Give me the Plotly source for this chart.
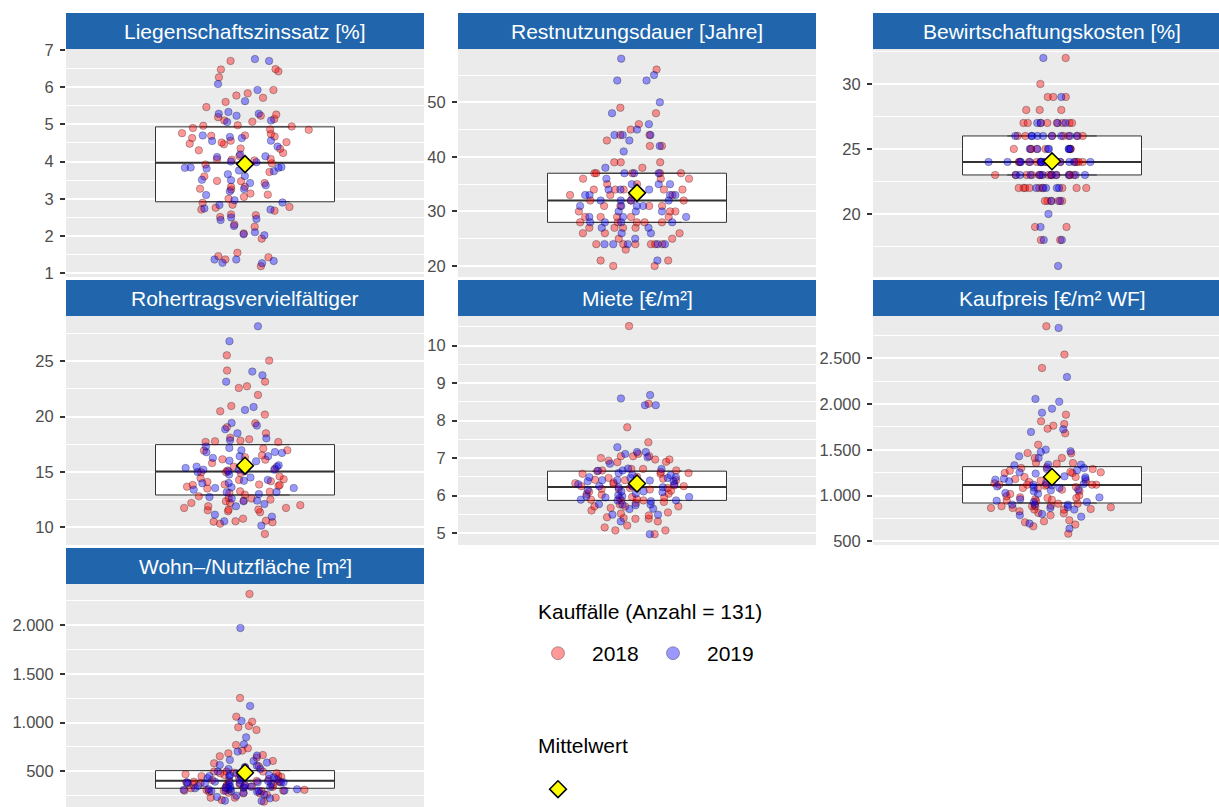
import plotly.graph_objects as go

W, H = 1219, 807

TITLES = ["Liegenschaftszinssatz [%]", "Restnutzungsdauer [Jahre]", "Bewirtschaftungskosten [%]",
          "Rohertragsvervielfältiger", "Miete [€/m²]", "Kaufpreis [€/m² WF]", "Wohn–/Nutzfläche [m²]"]

LIEG_2018 = [6.70, 6.47, 6.42, 6.48, 6.26, 5.92, 5.83, 5.77, 5.71, 5.60, 5.46, 5.26, 5.23, 5.14, 5.19, 5.10,
             5.07, 4.97, 4.94, 4.96, 4.90, 4.85, 4.86, 4.74, 4.76, 4.67, 4.69, 4.70, 4.56, 4.63, 4.52, 4.48,
             4.51, 4.46, 4.34, 4.35, 4.30, 4.23, 4.03, 4.06, 4.07, 4.05, 3.92, 3.72, 3.47, 3.48, 3.42, 3.32,
             3.32, 3.27, 3.25, 3.14, 3.11, 3.05, 3.00, 2.89, 2.84, 2.78, 2.76, 2.71, 2.68, 2.58, 2.56, 2.51,
             2.31, 2.25, 2.07, 1.93, 1.46, 1.37, 1.43, 1.55, 1.19, 3.95, 3.60, 4.15]
LIEG_2019 = [6.70, 6.75, 6.08, 5.92, 5.62, 5.33, 5.23, 5.28, 5.28, 5.10, 5.06, 4.63, 4.66, 4.70, 4.55, 4.56,
             4.19, 4.14, 4.00, 4.12, 3.83, 3.84, 3.81, 3.74, 3.83, 3.85, 3.76, 3.66, 3.61, 3.50, 3.51, 3.42,
             3.36, 3.26, 3.20, 2.96, 2.83, 2.71, 2.74, 2.50, 2.46, 2.43, 2.27, 2.10, 2.02, 2.05, 1.28, 1.37,
             1.33, 1.27, 1.37, 3.98, 4.40, 3.10, 2.90]

REST_2018 = [56, 49, 48, 46, 45, 44, 44, 43, 42, 42, 39, 39, 39, 38, 37, 37, 37, 37, 37, 36, 36, 36, 35,
             34, 34, 34, 34, 34, 33, 33, 33, 32, 32, 31, 31, 31, 31, 30, 30, 29, 29, 29, 29, 29, 28, 28, 28,
             28, 27, 27, 27, 26, 26, 26, 25, 25, 24, 24, 24, 24, 24, 24, 23, 21, 21, 20, 20,
             33, 32, 30, 28, 27, 35]
REST_2019 = [58, 55, 54, 54, 50, 48, 46, 45, 44, 44, 44, 43, 42, 41, 38, 37, 37, 37, 35, 35, 35, 34, 34,
             34, 33, 33, 33, 32, 32, 32, 32, 31, 31, 31, 30, 30, 29, 29, 28, 28, 28, 27, 27, 26, 25, 24, 24,
             24, 24, 24, 21, 31, 29, 30, 26, 28, 33, 36]

BEWI_2018 = [32, 30, 29, 29, 29, 28, 28, 28, 27, 27, 27, 27, 27, 27, 27, 27, 26, 26, 26, 26, 26, 26, 26,
             25, 25, 25, 25, 25, 25, 25, 24, 24, 24, 24, 24, 24, 24, 24, 24, 24, 24, 24, 23, 23, 23, 23, 23,
             23, 23, 23, 23, 23, 23, 23, 23, 22, 22, 22, 22, 22, 22, 22, 22, 22, 21, 21, 21, 21, 21, 19, 19,
             18, 18]
BEWI_2019 = [32, 29, 27, 27, 27, 27, 26, 26, 26, 26, 26, 26, 26, 26, 26, 25, 25, 25, 25, 25, 25, 25, 24,
             24, 24, 24, 24, 24, 24, 24, 24, 24, 24, 24, 24, 24, 23, 23, 23, 23, 23, 23, 23, 23, 23, 23, 22,
             22, 22, 22, 22, 21, 21, 20, 19, 18, 18, 16]

ROHE_2018 = [25.54, 25.06, 24.16, 23.16, 22.74, 22.59, 21.96, 20.96, 20.18, 20.48, 19.40, 19.04, 18.49,
             17.95, 17.71, 18.10, 17.83, 17.77, 17.71, 17.11, 16.96, 16.93, 16.33, 16.14, 16.11, 15.48,
             15.12, 14.97, 14.97, 14.43, 14.34, 14.28, 14.16, 14.10, 13.86, 13.83, 13.86, 13.83, 13.67,
             13.73, 13.25, 13.22, 12.95, 12.65, 12.59, 12.41, 12.50, 12.35, 12.20, 12.20, 11.75, 11.75,
             11.90, 11.54, 11.60, 11.45, 11.60, 11.36, 10.78, 10.33, 10.54, 10.51, 10.45, 10.60, 9.40,
             15.3, 14.6, 13.1, 16.5, 12.8, 15.8, 14.9, 13.5, 12.0]
ROHE_2019 = [28.16, 26.81, 23.73, 24.07, 23.16, 20.87, 20.60, 19.43, 19.19, 18.86, 18.49, 18.04, 17.86,
             17.17, 16.96, 16.72, 16.78, 16.42, 16.27, 16.42, 16.02, 15.96, 15.48, 15.48, 15.36, 15.21,
             15.21, 15.21, 15.06, 15.06, 14.76, 14.28, 14.00, 13.98, 13.61, 13.55, 13.55, 13.40, 13.16,
             13.19, 12.74, 12.41, 12.35, 12.11, 11.90, 11.14, 10.96, 10.54, 10.15,
             14.5, 15.6, 13.0, 12.6, 16.8, 14.2, 15.0, 17.3]

MIET_2018 = [10.52, 8.45, 7.82, 7.42, 7.11, 7.05, 7.05, 7.00, 6.96, 6.96, 7.05, 6.93, 6.90, 6.89, 6.71,
             6.71, 6.67, 6.67, 6.65, 6.60, 6.63, 6.58, 6.58, 6.47, 6.33, 6.41, 6.41, 6.42, 6.31, 6.27, 6.25,
             6.18, 6.20, 6.27, 6.17, 6.16, 6.13, 5.95, 5.96, 6.02, 6.04, 5.93, 5.87, 5.89, 5.87, 5.83, 5.71,
             5.76, 5.71, 5.71, 5.67, 5.55, 5.42, 5.31, 5.20, 5.60, 5.52, 5.47, 5.38, 5.40, 5.38, 5.15, 5.07,
             5.07, 4.97, 6.20, 6.35, 6.50, 5.90, 6.05, 6.25, 5.80, 6.45, 6.10]
MIET_2019 = [8.41, 8.41, 8.59, 8.68, 7.16, 7.16, 7.11, 7.29, 7.02, 6.85, 6.72, 6.71, 6.67, 6.66, 6.56,
             6.47, 6.49, 6.49, 6.47, 6.41, 6.38, 6.41, 6.38, 6.54, 6.25, 6.25, 6.22, 6.22, 6.11, 6.09, 6.11,
             5.98, 5.98, 6.01, 5.96, 5.87, 5.89, 5.87, 5.77, 5.76, 5.76, 5.74, 5.64, 5.65, 5.49, 5.49, 5.31,
             4.97, 6.30, 6.15, 5.95, 6.40, 6.20, 5.85, 6.60, 6.05, 6.30]

KAUF_2018 = [2850, 2540, 2394, 1884, 1811, 1782, 1764, 1731, 1680, 1556, 1462, 1465, 1411, 1411, 1356,
             1356, 1349, 1309, 1290, 1301, 1272, 1258, 1247, 1247, 1254, 1203, 1203, 1163, 1156, 1149,
             1134, 1119, 1119, 1119, 1108, 1119, 1119, 1083, 1076, 1065, 1094, 1017, 981, 974, 974, 992,
             955, 944, 937, 912, 912, 890, 883, 872, 883, 865, 883, 865, 847, 854, 828, 847, 806, 810, 784,
             719, 730, 683, 708, 664, 584, 1050, 1000, 1180, 960, 1230]
KAUF_2019 = [2832, 2296, 2056, 2026, 1950, 1906, 1724, 1695, 1484, 1476, 1502, 1429, 1411, 1338, 1338,
             1331, 1301, 1290, 1276, 1240, 1254, 1210, 1181, 1185, 1174, 1156, 1127, 1119, 1112, 1065,
             1083, 1057, 1046, 1028, 944, 959, 930, 930, 901, 901, 872, 865, 847, 784, 799, 770, 694, 639,
             1100, 1020, 980, 1200, 1090, 1140, 900]

WOHN_2018 = [2318, 1252, 1060, 1009, 965, 924, 951, 770, 736, 712, 640, 684, 667, 654, 606, 582, 551, 537,
             497, 479, 469, 497, 486, 497, 452, 462, 462, 428, 445, 408, 401, 394, 384, 370, 360, 367, 360,
             333, 343, 326, 309, 302, 298, 302, 281, 230, 230, 230, 206, 189, 274, 274,
             420, 380, 350, 310, 450, 400, 330, 290, 260, 480, 360, 410, 340, 300, 390, 320]
WOHN_2019 = [1969, 1170, 1016, 848, 777, 702, 661, 616, 606, 589, 565, 544, 558, 524, 524, 497, 462, 479,
             452, 452, 438, 418, 387, 387, 384, 377, 387, 394, 377, 377, 353, 343, 333, 343, 326, 333, 302,
             316, 316, 298, 298, 302, 264, 237, 223, 196, 199,
             410, 370, 340, 300, 460, 350, 280, 430, 390, 320, 250, 360, 400, 310, 440, 290]

Q1 = [2.92, 28, 23, 12.92, 5.87, 919, 326]
MEDIAN = [3.97, 32, 24, 15.03, 6.23, 1116, 404]
Q3 = [4.93, 37, 26, 17.47, 6.65, 1316, 507]
MEANS = [3.93, 33.4, 24.05, 15.57, 6.32, 1203, 486]

YEARS = ["2018", "2019"]
N_CASES = 131
LEGEND_TITLE = f"Kauffälle (Anzahl = {N_CASES})"
MEAN_TITLE = "Mittelwert"

SERIES = [(LIEG_2018, LIEG_2019), (REST_2018, REST_2019), (BEWI_2018, BEWI_2019),
          (ROHE_2018, ROHE_2019), (MIET_2018, MIET_2019), (KAUF_2018, KAUF_2019),
          (WOHN_2018, WOHN_2019)]

# ---------------- layout configuration (pixels of the 1219x807 page) ----------------
COLS = [(66, 424), (458, 816), (873, 1231)]               # panel left/right
ROWS = [(13, 49, 277), (280, 316, 545), (548, 584, 813)]  # strip top, panel top, panel bottom
YRANGE = [(0.90, 7.02), (17.98, 59.77), (15.15, 32.69), (8.40, 29.09), (4.68, 10.79),
          (460, 2962), (134, 2420)]
DTICK = [1, 10, 5, 5, 1, 500, 500]

STRIP_COLOR = "#2166AC"
PANEL_BG = "#EBEBEB"
COL_2018 = "rgba(255,0,0,0.4)"
COL_2019 = "rgba(0,0,255,0.4)"
OUTLINE = "rgba(0,0,0,0.35)"
FONT = "Liberation Sans, Arial, sans-serif"
BOX_W = 1.0
JIT = 0.76

fig = go.Figure()
shapes, annots = [], []
layout_axes = {}

for i, (title, (v18, v19)) in enumerate(zip(TITLES, SERIES)):
    r, c = divmod(i, 3)
    x0, x1 = COLS[c]
    st, pt, pb = ROWS[r]
    vis_x1 = min(x1, W)
    vis_pb = min(pb, H)
    xdom = [x0 / W, vis_x1 / W]
    ydom = [1 - vis_pb / H, 1 - pt / H]
    xr = [-1, -1 + 2 * (vis_x1 - x0) / (x1 - x0)]
    sfx = "" if i == 0 else str(i + 1)
    xa, ya = "x" + sfx, "y" + sfx

    layout_axes["xaxis" + sfx] = dict(domain=xdom, range=xr, type="linear", showgrid=False,
                                      zeroline=False, showticklabels=False, ticks="",
                                      anchor=ya, fixedrange=True)
    layout_axes["yaxis" + sfx] = dict(domain=ydom, range=list(YRANGE[i]), anchor=xa,
                                      tick0=0, dtick=DTICK[i], tickformat=",d",
                                      showgrid=True, gridcolor="white", gridwidth=2,
                                      zeroline=False, ticks="outside", ticklen=5, tickwidth=1.8,
                                      tickcolor="#333333", ticklabelstandoff=3,
                                      tickfont=dict(size=16.5, color="#4D4D4D", family=FONT),
                                      minor=dict(tick0=0, dtick=DTICK[i] / 2, showgrid=True,
                                                 gridcolor="white", gridwidth=1, ticks=""),
                                      fixedrange=True)

    # strip
    shapes.append(dict(type="rect", xref="paper", yref="paper", x0=x0 / W, x1=min(x1, W) / W,
                       y0=1 - pt / H, y1=1 - st / H, fillcolor=STRIP_COLOR, line=dict(width=0),
                       layer="above"))
    annots.append(dict(text=title, xref="paper", yref="paper", x=(x0 + x1) / 2 / W,
                       y=1 - (st + pt) / 2 / H, xanchor="center", yanchor="middle",
                       showarrow=False, font=dict(size=21, color="white", family=FONT)))

    # box (no whiskers)
    fig.add_trace(go.Box(x=[0], q1=[Q1[i]], median=[MEDIAN[i]], q3=[Q3[i]],
                         lowerfence=[Q1[i]], upperfence=[Q3[i]], orientation="v",
                         width=BOX_W, fillcolor="white", line=dict(color="#333333", width=1),
                         boxpoints=False, xaxis=xa, yaxis=ya, showlegend=False, hoverinfo="skip"))
    # thicker median
    fig.add_trace(go.Box(x=[0], q1=[MEDIAN[i]], median=[MEDIAN[i]], q3=[MEDIAN[i]],
                         lowerfence=[MEDIAN[i]], upperfence=[MEDIAN[i]], orientation="v",
                         width=BOX_W, fillcolor="rgba(0,0,0,0)", line=dict(color="#333333", width=2),
                         boxpoints=False, xaxis=xa, yaxis=ya, showlegend=False, hoverinfo="skip"))
    # jittered points
    for vals, col in ((v18, COL_2018), (v19, COL_2019)):
        fig.add_trace(go.Box(y=vals, x0=0, width=BOX_W, boxpoints="all", jitter=JIT, pointpos=0,
                             fillcolor="rgba(0,0,0,0)", line=dict(width=0, color="rgba(0,0,0,0)"),
                             marker=dict(color=col, size=7.5, line=dict(color=OUTLINE, width=0.8)),
                             xaxis=xa, yaxis=ya, showlegend=False, hoverinfo="skip"))
    # mean
    fig.add_trace(go.Scatter(x=[0], y=[MEANS[i]], mode="markers", xaxis=xa, yaxis=ya,
                             marker=dict(symbol="diamond", size=13, color="#FFFF00",
                                         line=dict(color="black", width=1.5)),
                             showlegend=False, hoverinfo="skip"))

# legend titles
annots.append(dict(text=LEGEND_TITLE, xref="paper", yref="paper", x=536 / W, y=1 - 611 / H,
                   xanchor="left", yanchor="middle", showarrow=False,
                   font=dict(size=21, color="black", family=FONT)))
annots.append(dict(text=MEAN_TITLE, xref="paper", yref="paper", x=536 / W, y=1 - 745 / H,
                   xanchor="left", yanchor="middle", showarrow=False,
                   font=dict(size=21, color="black", family=FONT)))

# legend entries
for name, col in zip(YEARS, (COL_2018, COL_2019)):
    fig.add_trace(go.Scatter(x=[None], y=[None], mode="markers", name=name, legend="legend",
                             marker=dict(color=col, size=13, line=dict(color="rgba(0,0,0,0.3)", width=1))))
fig.add_trace(go.Scatter(x=[None], y=[None], mode="markers", name="", legend="legend2",
                         marker=dict(symbol="diamond", size=13, color="#FFFF00",
                                     line=dict(color="black", width=1.5))))

fig.update_layout(
    width=W, height=H, autosize=False,
    margin=dict(l=0, r=0, t=0, b=0, autoexpand=False),
    paper_bgcolor="white", plot_bgcolor=PANEL_BG,
    font=dict(family=FONT, color="black"),
    separators=",.",
    boxmode="overlay",
    shapes=shapes, annotations=annots,
    legend=dict(orientation="h", x=524 / W, y=1 - 633 / H, xanchor="left", yanchor="top",
                font=dict(size=21, color="black"), itemwidth=58, entrywidth=42,
                bgcolor="rgba(0,0,0,0)"),
    legend2=dict(orientation="h", x=524 / W, y=1 - 769 / H, xanchor="left", yanchor="top",
                 font=dict(size=21, color="black"), itemwidth=58, bgcolor="rgba(0,0,0,0)"),
    **layout_axes,
)

fig.write_html("out.html", config={"displayModeBar": False},
               post_script="document.body.style.margin='0px';")
